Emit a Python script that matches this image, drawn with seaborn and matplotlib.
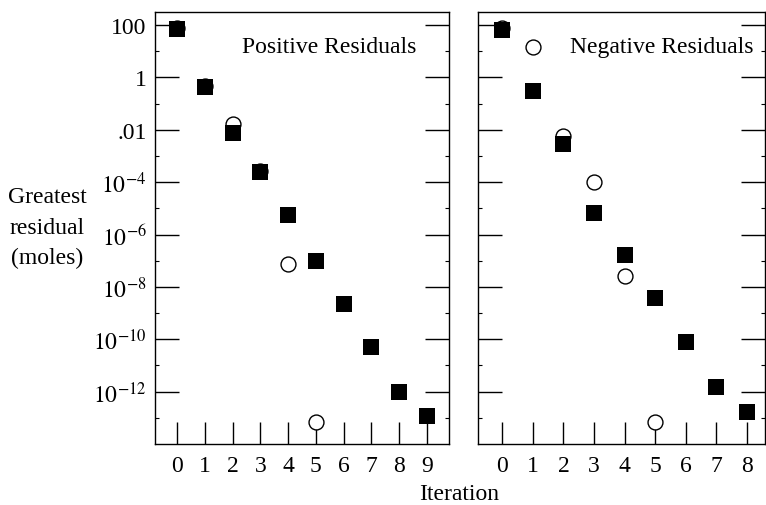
import matplotlib
matplotlib.use("Agg")
import matplotlib.pyplot as plt
import matplotlib.ticker as mticker
import numpy as np
import pandas as pd
import seaborn as sns

# positive residuals (left panel)
pos_iter_sq = [0, 1, 2, 3, 4, 5, 6, 7, 8, 9]
pos_sq = [70, 0.42, 0.0077, 2.4e-4, 5.4e-6, 1.0e-7, 2.2e-9, 4.9e-11, 1.0e-12, 1.2e-13]
pos_iter_ci = [0, 1, 2, 3, 4, 5]
pos_ci = [78, 0.46, 0.017, 2.6e-4, 7.6e-8, 7.0e-14]

# negative residuals (right panel)
neg_iter_sq = [0, 1, 2, 3, 4, 5, 6, 7, 8]
neg_sq = [65, 0.29, 0.0029, 6.6e-6, 1.7e-7, 3.8e-9, 7.7e-11, 1.5e-12, 1.6e-13]
neg_iter_ci = [0, 1, 2, 3, 4, 5]
neg_ci = [80, 14, 0.0059, 1.0e-4, 2.5e-8, 7.0e-14]

ytick_vals = [1e2, 1, 1e-2, 1e-4, 1e-6, 1e-8, 1e-10, 1e-12]
ytick_labels = ["100", "1", ".01", r"$10^{-4}$", r"$10^{-6}$", r"$10^{-8}$",
                r"$10^{-10}$", r"$10^{-12}$"]

sns.set_style("ticks")
plt.rcParams["font.family"] = ["Liberation Serif", "DejaVu Serif"]
plt.rcParams["mathtext.fontset"] = "stix"
plt.rcParams["text.color"] = "black"
plt.rcParams["xtick.color"] = "black"
plt.rcParams["ytick.color"] = "black"
plt.rcParams["axes.labelcolor"] = "black"
FS = 17

fig = plt.figure(figsize=(7.66, 5.06), dpi=100)
ax1 = fig.add_axes([0.2024, 0.1206, 0.3838, 0.8538])
ax2 = fig.add_axes([0.6240, 0.1206, 0.3747, 0.8538])


def panel(ax, it_ci, ci, it_sq, sq, nmax, title, tx):
    dc = pd.DataFrame({"Iteration": it_ci, "res": ci})
    ds = pd.DataFrame({"Iteration": it_sq, "res": sq})
    sns.scatterplot(data=dc, x="Iteration", y="res", ax=ax, marker="o", s=115,
                    facecolor="white", edgecolor="black", linewidth=1.0, zorder=3)
    sns.scatterplot(data=ds, x="Iteration", y="res", ax=ax, marker="s", s=125,
                    color="black", edgecolor="black", linewidth=0, zorder=4)
    ax.set_yscale("log")
    ax.set_ylim(1e-14, 10 ** 2.5)
    ax.set_xlim(-0.8, nmax + 0.8 if nmax == 9 else nmax + 0.6)
    ax.set_xticks(range(nmax + 1))
    ax.set_xticklabels([str(i) for i in range(nmax + 1)], fontsize=FS)
    ax.set_yticks(ytick_vals)
    ax.yaxis.set_minor_locator(mticker.FixedLocator([1e1, 1e-1, 1e-3, 1e-5, 1e-7,
                                                     1e-9, 1e-11, 1e-13]))
    ax.yaxis.set_minor_formatter(mticker.NullFormatter())
    ax.tick_params(axis="x", direction="in", length=16, width=1.0, top=False,
                   pad=8, colors="black")
    ax.tick_params(axis="y", which="major", direction="in", length=17, width=1.0,
                   left=True, right=True, colors="black")
    ax.tick_params(axis="y", which="minor", direction="in", length=3, width=0.8,
                   left=True, right=True, colors="black")
    for sp in ax.spines.values():
        sp.set_visible(True)
        sp.set_linewidth(1.0)
        sp.set_color("black")
    ax.set_xlabel("")
    ax.set_ylabel("")
    ax.text(tx, 0.92, title, transform=ax.transAxes, fontsize=FS, ha="left",
            va="center", color="black")


panel(ax1, pos_iter_ci, pos_ci, pos_iter_sq, pos_sq, 9, "Positive Residuals", 0.295)
ax1.set_yticklabels(ytick_labels, fontsize=FS)
ax1.tick_params(axis="y", pad=6)

panel(ax2, neg_iter_ci, neg_ci, neg_iter_sq, neg_sq, 8, "Negative Residuals", 0.32)
ax2.set_yticklabels([])

fig.text(0.062, 0.549, "Greatest\nresidual\n(moles)", fontsize=FS, ha="center",
         va="center", linespacing=1.6, color="black")
fig.text(0.600, 0.022, "Iteration", fontsize=FS, ha="center", va="center",
         color="black")

fig.savefig("out.png", dpi=100)
